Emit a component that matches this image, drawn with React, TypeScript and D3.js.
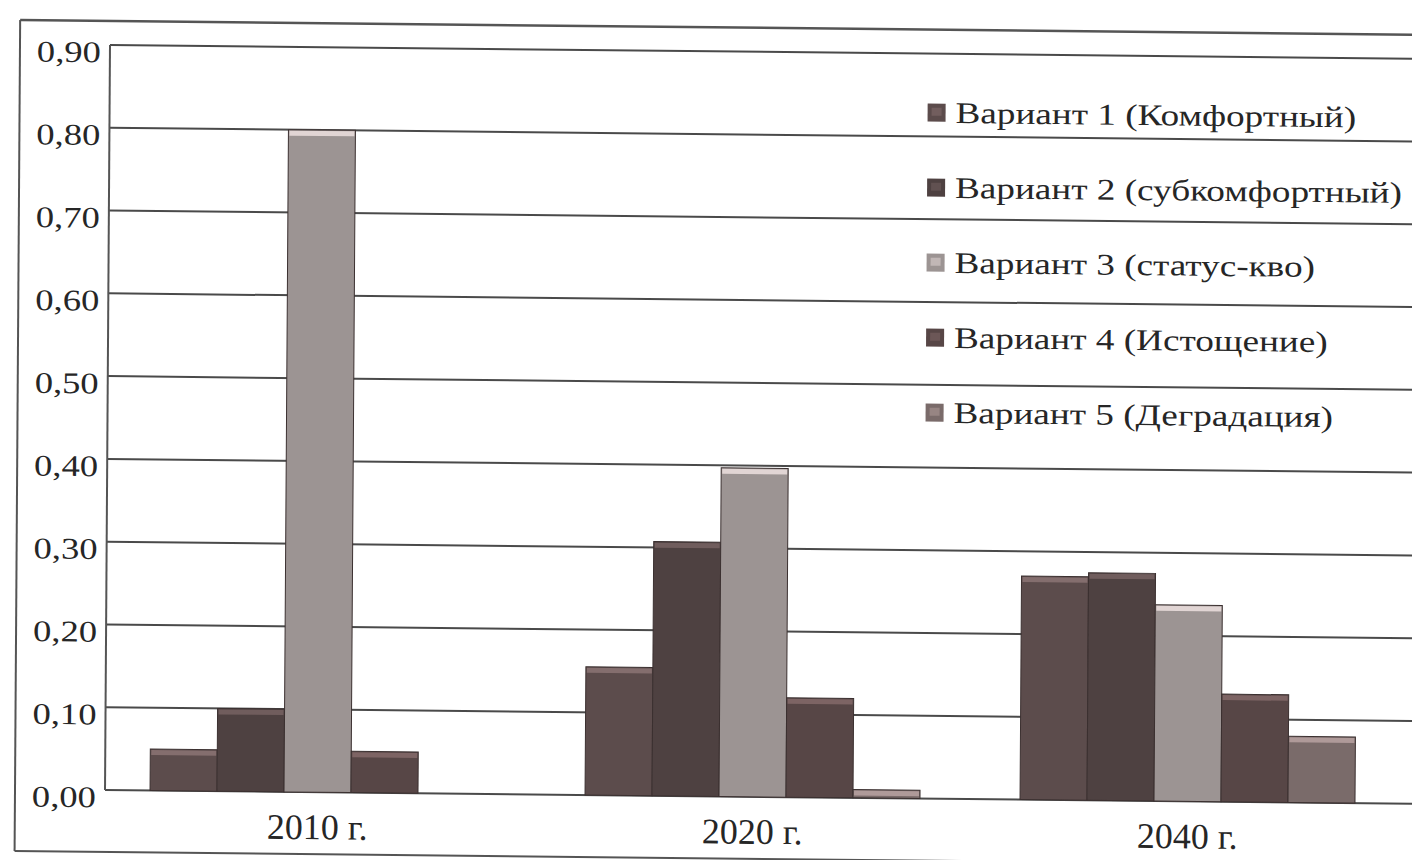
import React from 'react';
import * as d3 from 'd3';

// categories and series
const years = ['2010 г.', '2020 г.', '2040 г.'];
const variants = [
  'Вариант 1 (Комфортный)',
  'Вариант 2 (субкомфортный)',
  'Вариант 3 (статус-кво)',
  'Вариант 4 (Истощение)',
  'Вариант 5 (Деградация)',
];
const variant1 = [0.05, 0.155, 0.27];
const variant2 = [0.1, 0.307, 0.275];
const variant3 = [0.8, 0.397, 0.237];
const variant4 = [0.05, 0.12, 0.13];
const variant5 = [0.0, 0.01, 0.08];
const yTicks = [0, 0.1, 0.2, 0.3, 0.4, 0.5, 0.6, 0.7, 0.8, 0.9];

const seriesValues = [variant1, variant2, variant3, variant4, variant5];
const barColors = ['#5c4c4c', '#4e4141', '#9c9493', '#574646', '#7a6b6a'];

const W = 1412;
const H = 860;
const serif = '"Liberation Serif", "DejaVu Serif", serif';

export default function App() {
  const x = d3.scaleBand<string>()
    .domain(years)
    .range([100, 1405])
    .paddingInner(0.23)
    .paddingOuter(0.115);

  const xInner = d3.scaleBand<number>()
    .domain(d3.range(variants.length))
    .range([0, x.bandwidth()]);

  const y = d3.scaleLinear().domain([0, 0.9]).range([790, 45]);

  const fmt = (v: number) => d3.format('.2f')(v).replace('.', ',');

  const legendY = d3.scalePoint<string>()
    .domain(variants)
    .range([104, 404]);

  // the scan is slightly skewed: rows drop to the right, columns lean left
  const skew = 'matrix(1, 0.0105, -0.0067, 1, 5.3, -1.1)';

  return (
    <svg width={W} height={H} style={{ position: 'absolute', left: 0, top: 0, background: '#fff' }}>
      <g transform={skew}>
        {/* outer frame */}
        <line x1={15} x2={1440} y1={21} y2={21} stroke="#555" strokeWidth={2.5} />
        <line x1={15} x2={15} y1={21} y2={852} stroke="#555" strokeWidth={2} />
        <line x1={15} x2={1440} y1={852} y2={852} stroke="#555" strokeWidth={2} />

        {/* grid */}
        {yTicks.map(t => (
          <line key={t} x1={105} x2={1430} y1={y(t)} y2={y(t)} stroke="#4a4a4a" strokeWidth={2} />
        ))}
        <line x1={105} x2={105} y1={y(0.9)} y2={y(0)} stroke="#555" strokeWidth={2} />

        {/* y labels */}
        {yTicks.map(t => (
          <text key={t} transform={`translate(96,${y(t) + 7}) scale(1.22,1)`}
            textAnchor="end" dominantBaseline="central"
            fontFamily={serif} fontSize={30} fill="#262626">{fmt(t)}</text>
        ))}

        {/* bars */}
        {years.map((yr, i) => (
          <g key={yr} transform={`translate(${x(yr)},0)`}>
            {seriesValues.map((vals, s) => {
              const v = vals[i];
              if (!v) return null;
              const top = y(v);
              const h = y(0) - top;
              const c = d3.color(barColors[s])!;
              return (
                <g key={s}>
                  <rect x={xInner(s)} y={top} width={xInner.bandwidth()} height={h}
                    fill={barColors[s]} stroke="#3b3030" strokeWidth={1} />
                  <rect x={(xInner(s) as number) + 1} y={top + 1} width={xInner.bandwidth() - 2}
                    height={Math.min(5, Math.max(h - 2, 0))}
                    fill={c.brighter(1.3).toString()} opacity={0.75} />
                </g>
              );
            })}
          </g>
        ))}

        {/* category labels */}
        {years.map(yr => (
          <text key={yr} transform={`translate(${(x(yr) as number) + x.bandwidth() / 2},${y(0) + 35})`}
            textAnchor="middle" dominantBaseline="central"
            fontFamily={serif} fontSize={36} fill="#262626">{yr}</text>
        ))}

        {/* legend */}
        {variants.map((name, s) => (
          <g key={name} transform={`translate(923,${legendY(name)})`}>
            <rect x={0} y={-9} width={18} height={18} fill={barColors[s]} />
            <rect x={4} y={-5} width={10} height={8}
              fill={d3.color(barColors[s])!.brighter(0.6).toString()} />
            <text transform="translate(28,0) scale(1.24,1)" dominantBaseline="central"
              fontFamily={serif} fontSize={30} fill="#262626">{name}</text>
          </g>
        ))}
      </g>
    </svg>
  );
}
